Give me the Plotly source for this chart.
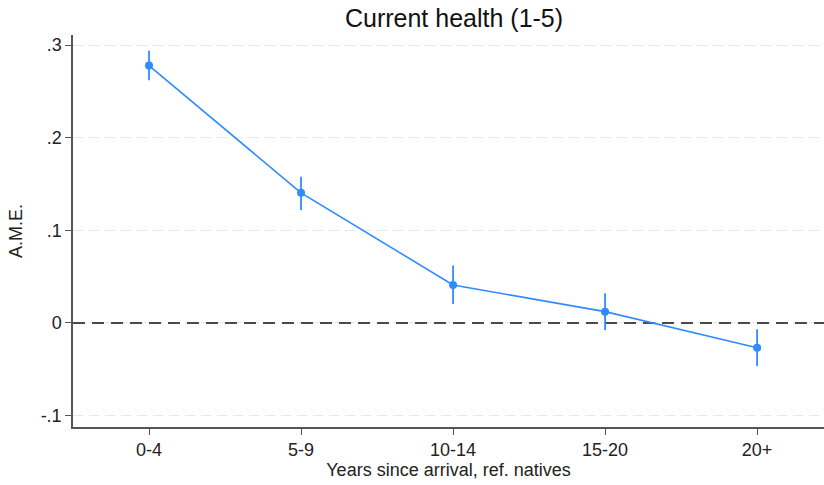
import plotly.graph_objects as go

categories = ["0-4", "5-9", "10-14", "15-20", "20+"]
ame = [0.278, 0.1405, 0.041, 0.0122, -0.0267]
ci_upper = [0.294, 0.158, 0.062, 0.032, -0.0068]
ci_lower = [0.262, 0.122, 0.0205, -0.0076, -0.0465]
y_ticks = [-0.1, 0, 0.1, 0.2, 0.3]
y_ticklabels = ["-.1", "0", ".1", ".2", ".3"]
ref_line = 0

err_plus = [u - m for u, m in zip(ci_upper, ame)]
err_minus = [m - l for m, l in zip(ame, ci_lower)]

x_range = [-0.5, 4.44]
color = "#2f8cff"
axis_color = "#555555"
font = "Liberation Sans, Arial, sans-serif"

fig = go.Figure()
fig.add_trace(go.Scatter(
    x=x_range, y=[ref_line, ref_line], mode="lines",
    line=dict(color="#4a4a4a", width=2, dash="12px,7px"),
    hoverinfo="skip", showlegend=False,
))
fig.add_trace(go.Scatter(
    x=list(range(len(categories))), y=ame, mode="lines+markers",
    line=dict(color=color, width=1.6),
    marker=dict(color=color, size=8),
    error_y=dict(type="data", array=err_plus, arrayminus=err_minus,
                 color=color, thickness=1.8, width=0),
    showlegend=False,
))

fig.update_layout(
    width=824, height=485,
    margin=dict(l=73, r=0, t=35, b=58, autoexpand=False),
    paper_bgcolor="white", plot_bgcolor="white",
    font=dict(family=font, size=18, color="#222222"),
    title=dict(text="Current health (1-5)", x=0.551, xanchor="center",
               y=0.963, yanchor="middle",
               font=dict(size=25, color="#111111", family=font)),
    xaxis=dict(
        range=x_range, tickmode="array",
        tickvals=list(range(len(categories))), ticktext=categories,
        showgrid=False, zeroline=False,
        showline=True, linecolor=axis_color, linewidth=1.5,
        ticks="outside", ticklen=6, tickwidth=1.2, tickcolor=axis_color,
        tickfont=dict(size=18, color="#222222"),
        title=dict(text="Years since arrival, ref. natives", standoff=3,
                   font=dict(size=18, color="#222222")),
    ),
    yaxis=dict(
        range=[-0.1124, 0.311], tickmode="array",
        tickvals=y_ticks, ticktext=y_ticklabels,
        showgrid=True, gridcolor="#e6e6e6", griddash="10px,6px", gridwidth=1.2,
        zeroline=False,
        showline=True, linecolor=axis_color, linewidth=1.5,
        ticks="outside", ticklen=6, tickwidth=1.2, tickcolor=axis_color,
        tickfont=dict(size=18, color="#222222"),
        title=dict(text="A.M.E.", standoff=13,
                   font=dict(size=18, color="#222222")),
    ),
)

fig.write_html("out.html", config={"displayModeBar": False},
               post_script="document.body.style.margin='0';document.body.style.overflow='hidden';")
